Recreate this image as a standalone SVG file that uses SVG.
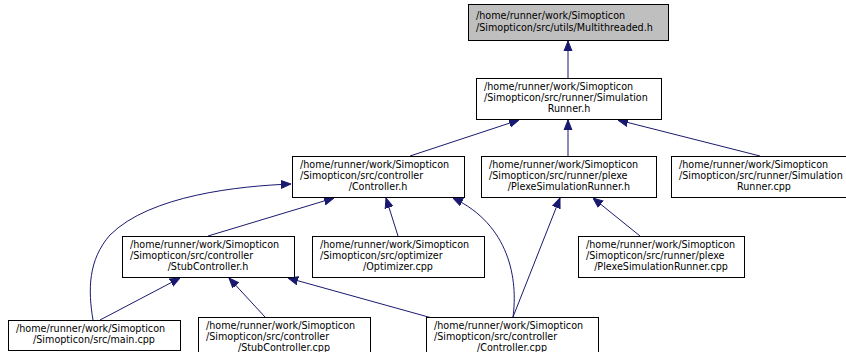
<svg xmlns="http://www.w3.org/2000/svg" width="846" height="352" viewBox="0 0 846 352">
<defs>
<style>
.box{fill:#fff;stroke:#000;stroke-width:1}
.gray{fill:#bfbfbf;stroke:#000;stroke-width:1}
text{font-family:"DejaVu Sans","Liberation Sans",sans-serif;font-size:9.6px;fill:#000}
.m{text-anchor:middle}
.e{fill:none;stroke:#191970;stroke-width:1}
</style>
<marker id="ah" viewBox="0 0 10 10" refX="10" refY="5" markerWidth="10" markerHeight="10" markerUnits="userSpaceOnUse" orient="auto">
<path d="M0,1 L10,5 L0,9 Z" fill="#191970" stroke="#191970"/>
</marker>
</defs>
<rect width="846" height="352" fill="#fff"/>
<g id="edges">
<path class="e" marker-end="url(#ah)" d="M568,78 L568,41"/>
<path class="e" marker-end="url(#ah)" d="M410,156 L519,120"/>
<path class="e" marker-end="url(#ah)" d="M568,156 L568,120"/>
<path class="e" marker-end="url(#ah)" d="M760,156 L618,120"/>
<path class="e" marker-end="url(#ah)" d="M208,236 L334,198"/>
<path class="e" marker-end="url(#ah)" d="M398,236 L386,198"/>
<path class="e" marker-end="url(#ah)" d="M93,320 C88,290 88,260 110,235 C150,195 240,186 291,184"/>
<path class="e" marker-end="url(#ah)" d="M513,317 C518,280 510,225 453,198"/>
<path class="e" marker-end="url(#ah)" d="M513,317 L560,198"/>
<path class="e" marker-end="url(#ah)" d="M640,236 L593,198"/>
<path class="e" marker-end="url(#ah)" d="M100,320 L180,278"/>
<path class="e" marker-end="url(#ah)" d="M265,317 L229,278"/>
<path class="e" marker-end="url(#ah)" d="M432,318 L288,278"/>
</g>
<g id="n1"><rect class="gray" x="468.5" y="4.5" width="200" height="36"/>
<text x="476" y="19">/home/runner/work/Simopticon</text><text x="476" y="31">/Simopticon/src/utils/Multithreaded.h</text></g>
<g id="n2"><rect class="box" x="476.5" y="78.5" width="185" height="41"/>
<text x="484" y="90">/home/runner/work/Simopticon</text><text x="484" y="101">/Simopticon/src/runner/Simulation</text><text class="m" x="569" y="112">Runner.h</text></g>
<g id="n3"><rect class="box" x="292.5" y="156.5" width="172" height="41"/>
<text x="300" y="168">/home/runner/work/Simopticon</text><text x="300" y="179">/Simopticon/src/controller</text><text class="m" x="378" y="190">/Controller.h</text></g>
<g id="n4"><rect class="box" x="481.5" y="156.5" width="175" height="41"/>
<text x="489" y="168">/home/runner/work/Simopticon</text><text x="489" y="179">/Simopticon/src/runner/plexe</text><text class="m" x="569" y="190">/PlexeSimulationRunner.h</text></g>
<g id="n5"><rect class="box" x="671.5" y="156.5" width="185" height="41"/>
<text x="679" y="168">/home/runner/work/Simopticon</text><text x="679" y="179">/Simopticon/src/runner/Simulation</text><text class="m" x="764" y="190">Runner.cpp</text></g>
<g id="n6"><rect class="box" x="122.5" y="236.5" width="172" height="41"/>
<text x="130" y="248">/home/runner/work/Simopticon</text><text x="130" y="259">/Simopticon/src/controller</text><text class="m" x="208" y="270">/StubController.h</text></g>
<g id="n7"><rect class="box" x="312.5" y="236.5" width="172" height="41"/>
<text x="320" y="248">/home/runner/work/Simopticon</text><text x="320" y="259">/Simopticon/src/optimizer</text><text class="m" x="398" y="270">/Optimizer.cpp</text></g>
<g id="n8"><rect class="box" x="578.5" y="236.5" width="166" height="41"/>
<text x="586" y="248">/home/runner/work/Simopticon</text><text x="586" y="259">/Simopticon/src/runner/plexe</text><text class="m" x="661" y="270">/PlexeSimulationRunner.cpp</text></g>
<g id="n9"><rect class="box" x="8.5" y="320.5" width="172" height="30"/>
<text x="16" y="332">/home/runner/work/Simopticon</text><text class="m" x="94" y="343">/Simopticon/src/main.cpp</text></g>
<g id="n10"><rect class="box" x="198.5" y="317.5" width="172" height="41"/>
<text x="206" y="329">/home/runner/work/Simopticon</text><text x="206" y="340">/Simopticon/src/controller</text><text class="m" x="284" y="351">/StubController.cpp</text></g>
<g id="n11"><rect class="box" x="426.5" y="317.5" width="172" height="41"/>
<text x="434" y="329">/home/runner/work/Simopticon</text><text x="434" y="340">/Simopticon/src/controller</text><text class="m" x="512" y="351">/Controller.cpp</text></g>
</svg>
